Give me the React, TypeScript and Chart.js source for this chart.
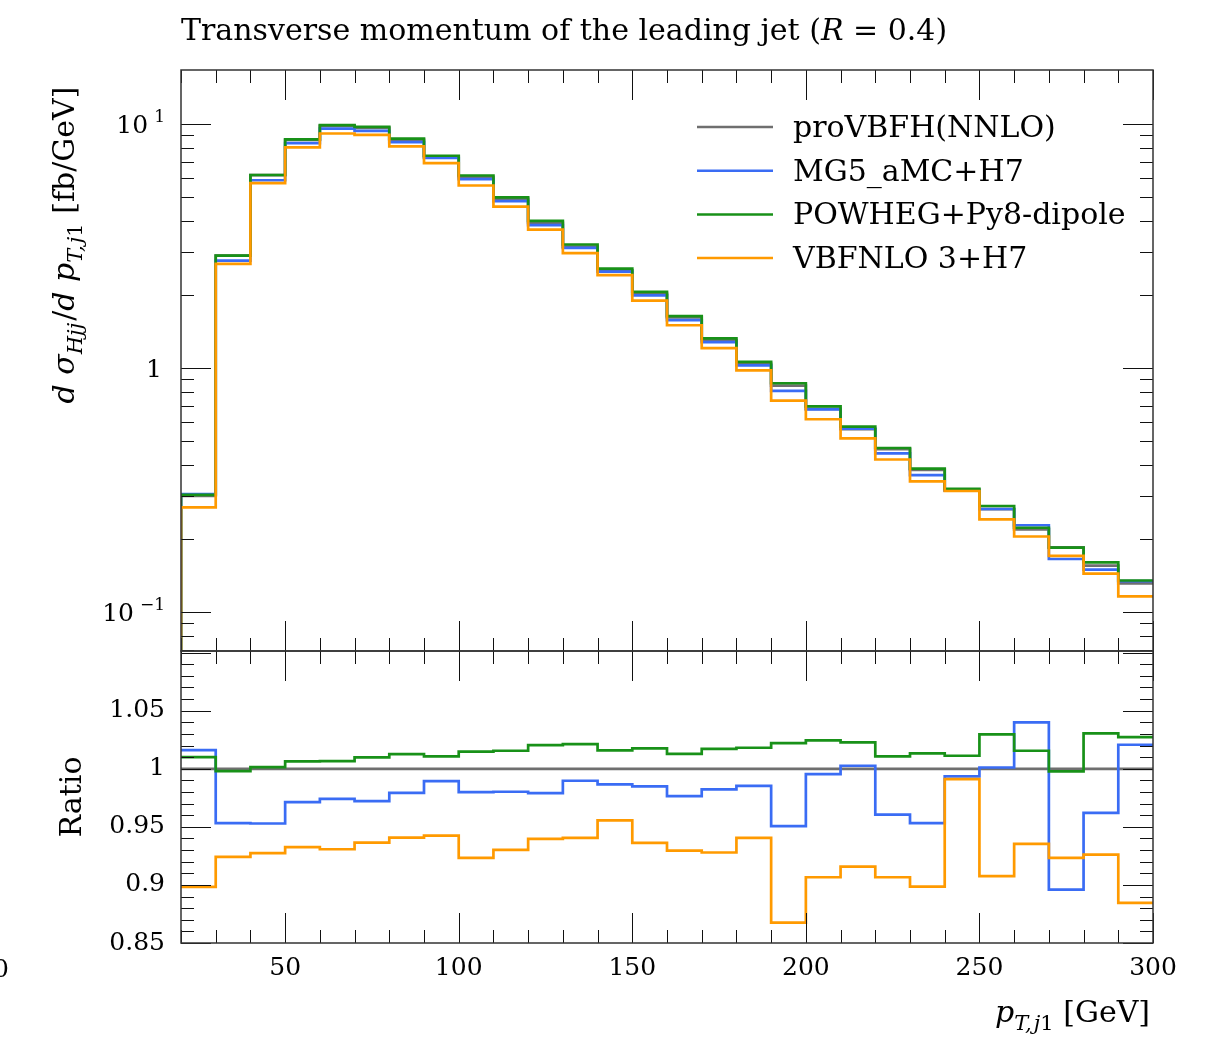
import React, { useEffect, useRef } from 'react';
import { Chart, registerables } from 'chart.js';

Chart.register(...registerables);

// ---------- data ----------
const binEdges = [20, 30, 40, 50, 60, 70, 80, 90, 100, 110, 120, 130, 140, 150, 160, 170, 180, 190, 200, 210, 220, 230, 240, 250, 260, 270, 280, 290, 300];

// proVBFH (NNLO) reference, d sigma / d pT,j1 [fb/GeV] per bin
const proVBFHValues = [0.299, 2.89, 6.17, 8.6, 9.82, 9.64, 8.6, 7.33, 6.06, 4.93, 3.93, 3.14, 2.515, 2.015, 1.61, 1.3, 1.04, 0.847, 0.68, 0.562, 0.465, 0.382, 0.316, 0.264, 0.218, 0.184, 0.155, 0.131];

// ratios to proVBFH
const mg5Ratio = [1.0161, 0.9532, 0.9529, 0.9713, 0.9741, 0.9721, 0.9793, 0.9894, 0.9799, 0.9802, 0.979, 0.9897, 0.9865, 0.9848, 0.9764, 0.9822, 0.9853, 0.9506, 0.9954, 1.0026, 0.9606, 0.9532, 0.9934, 1.0011, 1.0399, 0.896, 0.9621, 1.0207];
const powhegRatio = [1.0101, 0.998, 1.0014, 1.0063, 1.0066, 1.0098, 1.0126, 1.0106, 1.0147, 1.0155, 1.0204, 1.0213, 1.0158, 1.0175, 1.0129, 1.0172, 1.0181, 1.0221, 1.0244, 1.0227, 1.0106, 1.0132, 1.0112, 1.0296, 1.0155, 0.9977, 1.0305, 1.0273];
const vbfnloRatio = [0.8983, 0.9241, 0.9273, 0.9325, 0.9307, 0.9365, 0.9408, 0.9425, 0.9233, 0.9302, 0.9397, 0.9405, 0.9555, 0.9362, 0.9296, 0.9279, 0.9405, 0.8675, 0.9066, 0.9158, 0.9066, 0.8986, 0.9911, 0.9075, 0.9353, 0.9233, 0.9261, 0.8845];

const seriesLabels = ['proVBFH(NNLO)', 'MG5_aMC+H7', 'POWHEG+Py8-dipole', 'VBFNLO 3+H7'];
const seriesColors = ['#6f6f6f', '#3a6cf4', '#189118', '#ff9a00'];

const xTickLabels = [50, 100, 150, 200, 250, 300];
const ratioTickLabels = ['0.85', '0.9', '0.95', '1', '1.05'];
const logDecades = [-1, 0, 1];

const xMin = 20;
const xMax = 300;
const yTopMin = 0.0692;
const yTopMax = 16.64;
const ratioMin = 0.85;
const ratioMax = 1.1014;

// ---------- helpers ----------
const FONT = '"DejaVu Serif", "Liberation Serif", serif';
const TXT = 30;
const TICK = 25;

type Seg = { t: string; it?: boolean; sub?: boolean; sup?: boolean; gap?: number };

function segFont(s: Seg, size: number) {
  const sz = s.sub || s.sup ? Math.round(size * 0.7) : size;
  return `${s.it ? 'italic ' : ''}${sz}px ${FONT}`;
}
function richWidth(ctx: CanvasRenderingContext2D, segs: Seg[], size: number) {
  let w = 0;
  for (const s of segs) {
    ctx.font = segFont(s, size);
    w += ctx.measureText(s.t).width + (s.gap || 0);
  }
  return w;
}
function drawRich(ctx: CanvasRenderingContext2D, segs: Seg[], x: number, y: number, size: number) {
  let cx = x;
  ctx.textAlign = 'left';
  ctx.textBaseline = 'alphabetic';
  for (const s of segs) {
    ctx.font = segFont(s, size);
    const dy = s.sub ? size * 0.28 : s.sup ? -size * 0.4 : 0;
    ctx.fillText(s.t, cx, y + dy);
    cx += ctx.measureText(s.t).width + (s.gap || 0);
  }
}

function histPoints(values: number[], floor?: number) {
  const pts: { x: number; y: number }[] = [];
  if (floor !== undefined) pts.push({ x: binEdges[0], y: floor });
  values.forEach((v, i) => pts.push({ x: binEdges[i], y: v }));
  pts.push({ x: binEdges[binEdges.length - 1], y: values[values.length - 1] });
  return pts;
}

const ratios = [proVBFHValues.map(() => 1), mg5Ratio, powhegRatio, vbfnloRatio];
const topSeries = ratios.map((r) => proVBFHValues.map((v, i) => v * r[i]));

function xTicksBuild(scale: any) {
  scale.ticks = binEdges.map((v) => ({ value: v }));
}
function zeroPad(s: any) {
  s.paddingTop = 0;
  s.paddingBottom = 0;
  s.paddingLeft = 0;
  s.paddingRight = 0;
}

function drawTickMarks(chart: any, yTickVals: { v: number; major: boolean }[]) {
  const { ctx, chartArea: a } = chart;
  const xs = chart.scales.x;
  const ys = chart.scales.y;
  ctx.save();
  ctx.strokeStyle = '#111';
  ctx.lineWidth = 1;
  ctx.beginPath();
  for (const t of xs.ticks) {
    const px = Math.round(xs.getPixelForValue(t.value)) + 0.5;
    const len = t.value % 50 === 0 ? 30 : 13;
    ctx.moveTo(px, a.top);
    ctx.lineTo(px, a.top + len);
    ctx.moveTo(px, a.bottom);
    ctx.lineTo(px, a.bottom - len);
  }
  for (const t of yTickVals) {
    const py = Math.round(ys.getPixelForValue(t.v)) + 0.5;
    if (py < a.top - 0.5 || py > a.bottom + 0.5) continue;
    const len = t.major ? 30 : 13;
    ctx.moveTo(a.left, py);
    ctx.lineTo(a.left + len, py);
    ctx.moveTo(a.right, py);
    ctx.lineTo(a.right - len, py);
  }
  ctx.stroke();
  ctx.strokeStyle = '#333';
  ctx.lineWidth = 1.5;
  ctx.strokeRect(a.left, a.top, a.right - a.left, a.bottom - a.top);
  ctx.restore();
}

const subTj1: Seg[] = [{ t: 'T,', it: true, sub: true, gap: 2 }, { t: 'j', it: true, sub: true }, { t: '1', sub: true }];

const topPanelPlugin = {
  id: 'topPanel',
  afterDraw(chart: any) {
    const { ctx } = chart;
    const ys = chart.scales.y;
    const vals: { v: number; major: boolean }[] = [];
    for (let e = -2; e <= 2; e++) {
      for (let m = 1; m <= 9; m++) {
        const v = m * Math.pow(10, e);
        if (v >= yTopMin && v <= yTopMax) vals.push({ v, major: m === 1 });
      }
    }
    drawTickMarks(chart, vals);

    ctx.save();
    ctx.fillStyle = '#000';
    for (const e of logDecades) {
      const py = ys.getPixelForValue(Math.pow(10, e));
      const base = py + 9;
      ctx.textBaseline = 'alphabetic';
      ctx.textAlign = 'right';
      if (e === 0) {
        ctx.font = `${TICK}px ${FONT}`;
        ctx.fillText('1', 162, base);
      } else {
        const sup = e < 0 ? '\u22121' : '1';
        ctx.font = `17px ${FONT}`;
        const sw = ctx.measureText(sup).width;
        ctx.fillText(sup, 165, base - 11);
        ctx.font = `${TICK}px ${FONT}`;
        ctx.fillText('10', 165 - sw - 6, base);
      }
    }
    drawRich(ctx, [{ t: 'Transverse momentum of the leading jet (' }, { t: 'R', it: true }, { t: ' = 0.4)' }], 181, 40, TXT);
    const ySegs: Seg[] = [
      { t: 'd', it: true }, { t: ' ' }, { t: 'σ', it: true }, { t: 'Hjj', it: true, sub: true, gap: 2 },
      { t: '/' }, { t: 'd', it: true }, { t: ' ' }, { t: 'p', it: true }, ...subTj1,
      { t: ' [fb/GeV]' },
    ];
    const w = richWidth(ctx, ySegs, TXT);
    ctx.save();
    ctx.translate(74, 245);
    ctx.rotate(-Math.PI / 2);
    ctx.fillStyle = '#000';
    drawRich(ctx, ySegs, -w / 2, 0, TXT);
    ctx.restore();
    chart.data.datasets.forEach((ds: any, i: number) => {
      const y = 127 + i * 43.7;
      ctx.strokeStyle = ds.borderColor;
      ctx.lineWidth = 2.5;
      ctx.beginPath();
      ctx.moveTo(697, y);
      ctx.lineTo(773, y);
      ctx.stroke();
      ctx.fillStyle = '#000';
      ctx.font = `${TXT}px ${FONT}`;
      ctx.textAlign = 'left';
      ctx.textBaseline = 'alphabetic';
      ctx.fillText(ds.label, 793, y + 10);
    });
    ctx.restore();
  },
};

const BOTTOM_CANVAS_TOP = 640;

const bottomPanelPlugin = {
  id: 'bottomPanel',
  afterDraw(chart: any) {
    const { ctx } = chart;
    const ys = chart.scales.y;
    const vals = ys.ticks.map((t: any) => ({ v: t.value, major: Math.round(t.value * 100) % 5 === 0 }));
    drawTickMarks(chart, vals);
    ctx.save();
    ctx.fillStyle = '#000';
    ctx.font = `${TXT}px ${FONT}`;
    ctx.save();
    ctx.translate(81, 797 - BOTTOM_CANVAS_TOP);
    ctx.rotate(-Math.PI / 2);
    ctx.textAlign = 'center';
    ctx.textBaseline = 'alphabetic';
    ctx.fillText('Ratio', 0, 0);
    ctx.restore();
    const xSegs: Seg[] = [{ t: 'p', it: true }, ...subTj1, { t: ' [GeV]' }];
    const w = richWidth(ctx, xSegs, TXT);
    drawRich(ctx, xSegs, 1150 - w, 1022 - BOTTOM_CANVAS_TOP, TXT);
    ctx.font = `${TICK}px ${FONT}`;
    ctx.textAlign = 'right';
    ctx.fillText('0', 9, 977 - BOTTOM_CANVAS_TOP);
    ctx.restore();
  },
};

function makeDatasets(seriesData: number[][], floor?: number) {
  return seriesData.map((vals, i) => ({
    label: seriesLabels[i],
    data: histPoints(vals, floor),
    borderColor: seriesColors[i],
    backgroundColor: seriesColors[i],
    borderWidth: 2.7,
    pointRadius: 0,
    stepped: 'before' as const,
    fill: false,
    tension: 0,
    order: seriesData.length - 1 - i,
  }));
}

export default function App() {
  const topRef = useRef<HTMLCanvasElement>(null);
  const botRef = useRef<HTMLCanvasElement>(null);

  useEffect(() => {
    const top = new Chart(topRef.current as HTMLCanvasElement, {
      type: 'line',
      data: { datasets: makeDatasets(topSeries, 0.001) as any },
      options: {
        responsive: false,
        animation: false,
        events: [],
        layout: { padding: { left: 0, right: 62, top: 70, bottom: 9 } },
        plugins: { legend: { display: false }, tooltip: { enabled: false } },
        scales: {
          x: {
            type: 'linear', min: xMin, max: xMax,
            ticks: { display: false },
            grid: { display: false, drawTicks: false },
            border: { display: false },
            afterBuildTicks: xTicksBuild,
            afterFit: (s: any) => { s.height = 0; zeroPad(s); },
          },
          y: {
            type: 'logarithmic', min: yTopMin, max: yTopMax,
            ticks: { display: false },
            grid: { display: false, drawTicks: false },
            border: { display: false },
            afterFit: (s: any) => { s.width = 181; zeroPad(s); },
          },
        },
      } as any,
      plugins: [topPanelPlugin],
    });

    const bot = new Chart(botRef.current as HTMLCanvasElement, {
      type: 'line',
      data: { datasets: makeDatasets(ratios) as any },
      options: {
        responsive: false,
        animation: false,
        events: [],
        layout: { padding: { left: 0, right: 62, top: 651 - BOTTOM_CANVAS_TOP, bottom: 0 } },
        plugins: { legend: { display: false }, tooltip: { enabled: false } },
        scales: {
          x: {
            type: 'linear', min: xMin, max: xMax,
            ticks: {
              autoSkip: false, maxRotation: 0, padding: 10, color: '#000',
              font: { family: FONT, size: TICK },
              callback: (v: any) => (xTickLabels.includes(Number(v)) ? String(v) : ''),
            },
            grid: { display: false, drawTicks: false },
            border: { display: false },
            afterBuildTicks: xTicksBuild,
            afterFit: (s: any) => { s.height = 97; zeroPad(s); },
          },
          y: {
            type: 'linear', min: ratioMin, max: ratioMax,
            ticks: {
              autoSkip: false, padding: 16, color: '#000',
              font: { family: FONT, size: TICK },
              callback: (v: any) => {
                const k = Math.round(Number(v) * 100);
                const lbl = ratioTickLabels.find((s) => Math.round(parseFloat(s) * 100) === k);
                return lbl ?? '';
              },
            },
            grid: { display: false, drawTicks: false },
            border: { display: false },
            afterBuildTicks: (scale: any) => {
              const t: { value: number }[] = [];
              for (let k = Math.round(ratioMin * 100); k <= Math.floor(ratioMax * 100); k++) t.push({ value: k / 100 });
              scale.ticks = t;
            },
            afterFit: (s: any) => { s.width = 181; zeroPad(s); },
          },
        },
      } as any,
      plugins: [bottomPanelPlugin],
    });

    return () => {
      top.destroy();
      bot.destroy();
    };
  }, []);

  return (
    <div style={{ position: 'absolute', left: 0, top: 0, width: 1215, height: 1040, background: '#fff' }}>
      <canvas ref={topRef} width={1215} height={660} style={{ position: 'absolute', left: 0, top: 0, width: 1215, height: 660 }} />
      <canvas ref={botRef} width={1215} height={1040 - BOTTOM_CANVAS_TOP} style={{ position: 'absolute', left: 0, top: BOTTOM_CANVAS_TOP, width: 1215, height: 1040 - BOTTOM_CANVAS_TOP }} />
    </div>
  );
}
